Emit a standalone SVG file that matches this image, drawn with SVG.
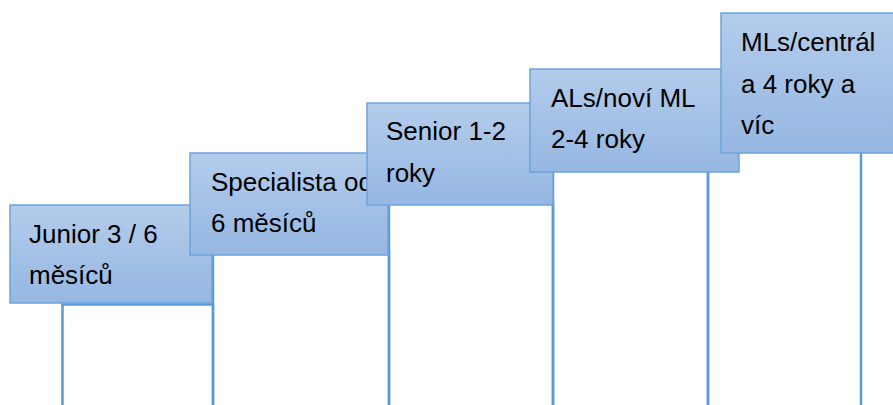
<svg xmlns="http://www.w3.org/2000/svg" width="893" height="405" viewBox="0 0 893 405">
  <defs>
    <linearGradient id="stepFill" x1="0" y1="0" x2="0" y2="1">
      <stop offset="0" stop-color="#b3cceb"/>
      <stop offset="1" stop-color="#95b7e2"/>
    </linearGradient>
    <style>
      .bar { fill: none; stroke: #5b9bd5; stroke-width: 2.5; }
      .box { fill: url(#stepFill); stroke: #6fa3da; stroke-width: 1.5; }
      .label { font-family: "Liberation Sans", Arial, sans-serif; font-size: 26px; fill: #000000; }
    </style>
  </defs>
  <rect width="893" height="405" fill="#ffffff"/>

  <!-- step supports; their top edges sit behind the boxes -->
  <g id="connectors">
    <path class="bar" d="M62.5,410 V304.5 H213 V410"/>
    <path class="bar" d="M213,410 V252 H389 V410"/>
    <path class="bar" d="M389,410 V202 H553 V410"/>
    <path class="bar" d="M553,410 V169 H708 V410"/>
    <path class="bar" d="M708,410 V150 H861 V410"/>
  </g>

  <g id="step-junior">
    <rect class="box" x="10" y="205" width="202" height="98"/>
    <text class="label" x="29" y="243">Junior 3 / 6</text>
    <text class="label" x="29" y="284">měsíců</text>
  </g>

  <g id="step-specialista">
    <rect class="box" x="190" y="153" width="198" height="102"/>
    <text class="label" x="211" y="191">Specialista od</text>
    <text class="label" x="211" y="232">6 měsíců</text>
  </g>

  <g id="step-senior">
    <rect class="box" x="367" y="103" width="186" height="102"/>
    <text class="label" x="386" y="140">Senior 1-2</text>
    <text class="label" x="386" y="182">roky</text>
  </g>

  <g id="step-als">
    <rect class="box" x="530" y="69" width="209" height="103"/>
    <text class="label" x="551" y="107">ALs/noví ML</text>
    <text class="label" x="551" y="148">2-4 roky</text>
  </g>

  <g id="step-mls">
    <rect class="box" x="721" y="13" width="180" height="140"/>
    <text class="label" x="741" y="51">MLs/centrál</text>
    <text class="label" x="741" y="93">a 4 roky a</text>
    <text class="label" x="741" y="134">víc</text>
  </g>
</svg>
